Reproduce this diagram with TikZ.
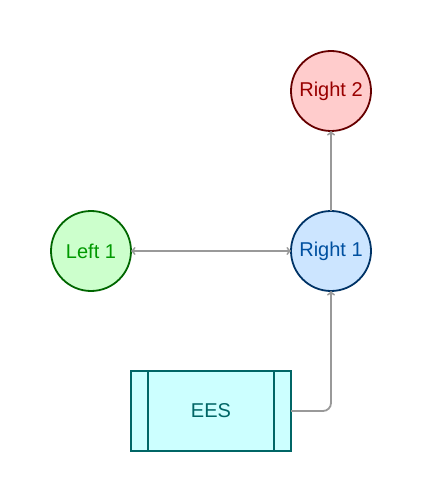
\documentclass[tikz,border=0pt]{standalone}
\usepackage{fontspec}
\setmainfont{Liberation Sans}
\usepackage{tikz}
\usetikzlibrary{arrows,positioning}

\definecolor{leftfill}{HTML}{CCFFCC}
\definecolor{leftdraw}{HTML}{006600}
\definecolor{lefttext}{HTML}{009900}
\definecolor{r1fill}{HTML}{CCE5FF}
\definecolor{r1draw}{HTML}{003366}
\definecolor{r1text}{HTML}{0050A0}
\definecolor{r2fill}{HTML}{FFCCCC}
\definecolor{r2draw}{HTML}{660000}
\definecolor{r2text}{HTML}{990000}
\definecolor{eesfill}{HTML}{CCFFFF}
\definecolor{eesdraw}{HTML}{006666}
\definecolor{linkgray}{HTML}{999999}

\begin{document}
\begin{tikzpicture}[->,>=to,shorten >=0pt,
		font=\fontsize{20}{24}\selectfont,
		base node/.style={circle,draw,line width=1.8pt,outer sep=0pt,minimum size=80pt,inner sep=0pt},
		link/.style={draw=linkgray,line width=1.8pt}]
		
		\useasboundingbox (0,0) rectangle (422pt,-502pt);
		
		\node[base node,fill=r1fill,draw=r1draw,text=r1text](r1) at (331pt,-251pt){Right 1};
		\node[base node,fill=r2fill,draw=r2draw,text=r2text](r2)[above=80pt of r1]{Right 2};
		\node[base node,fill=leftfill,draw=leftdraw,text=lefttext](l1)[left=160pt of r1]{Left 1};
		\node[rectangle,draw=eesdraw,fill=eesfill,text=eesdraw,line width=1.8pt,outer sep=0pt,
			minimum width=160pt,minimum height=80pt](ees) at (211pt,-411pt){EES};
		\draw[-,eesdraw,line width=1.8pt]
		([xshift=17pt]ees.north west) -- ([xshift=17pt]ees.south west)
		([xshift=-17pt]ees.north east) -- ([xshift=-17pt]ees.south east);
		
		\path[link]
		(r1) edge (r2)
		(l1) edge [<->] (r1);
		\draw[link,rounded corners=8pt] (ees.east) -| (r1.south);
		
	\end{tikzpicture}
\end{document}
